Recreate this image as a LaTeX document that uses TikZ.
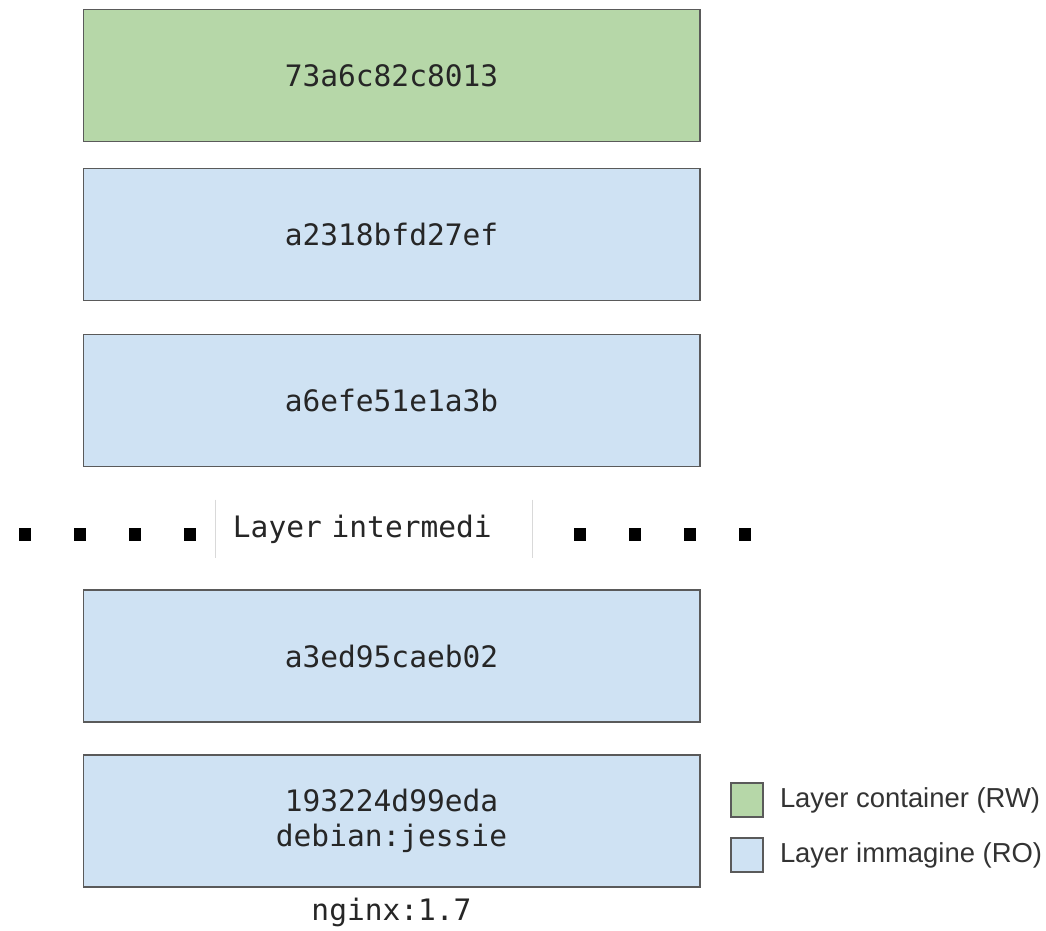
\documentclass[tikz,border=0pt]{standalone}
\usepackage{fontspec}
\setmainfont{Liberation Sans}
\setmonofont{DejaVu Sans Mono}
\usetikzlibrary{positioning}
\definecolor{rwgreen}{HTML}{B6D7A8}
\definecolor{roblue}{HTML}{CFE2F3}
\definecolor{edgegray}{HTML}{5A5A5A}

\begin{document}
\begin{tikzpicture}[x=0.025cm, y=-0.025cm,
  layer/.style={draw=edgegray, line width=1.3pt, minimum width=15.4cm, minimum height=3.3cm,
                align=center, text=black!85, font=\fontsize{21}{25}\selectfont\ttfamily},
  legkey/.style={draw=edgegray, line width=1pt, minimum width=0.8cm, minimum height=0.85cm, inner sep=0pt},
  legtext/.style={inner sep=0pt, text=black!80, font=\fontsize{19.5}{22}\selectfont}]
\useasboundingbox[fill=white] (0,0) rectangle (1046,931);

% stack of layers
\node[layer, fill=rwgreen] (l1) at (391.5,75.5) {73a6c82c8013};
\node[layer, fill=roblue] (l2) at (391.5,234.5) {a2318bfd27ef};
\node[layer, fill=roblue] (l3) at (391.5,400.5) {a6efe51e1a3b};
\node[layer, fill=roblue] (l4) at (391.5,656) {a3ed95caeb02};
\node[layer, fill=roblue] (l5) at (391.5,821) {193224d99eda\\debian:jessie};
\node[text=black!85, font=\fontsize{21}{25}\selectfont\ttfamily] (tag) at (391.5,912) {nginx:1.7};

% intermediate layers
\node[fill=white, text=black!85, minimum height=1.45cm, text width=7.05cm, inner xsep=0.425cm,
      align=left, font=\fontsize{21}{25}\selectfont\ttfamily] (mid) at (374,529) {Layer intermedi};
\draw[black!15] (mid.north west) -- (mid.south west);
\draw[black!15] (mid.north east) -- (mid.south east);
\foreach \x in {25,80,135,190,580,635,690,745}
  \fill[black] (\x-6,528) rectangle (\x+6,541);

% legend
\node[legkey, fill=rwgreen] (kc) at (747,800) {};
\node[legkey, fill=roblue] (ki) at (747,855) {};
\node[legtext, right=0.4cm of kc] (tc) {Layer container (RW)};
\node[legtext, right=0.4cm of ki] (ti) {Layer immagine (RO)};
\end{tikzpicture}
\end{document}
